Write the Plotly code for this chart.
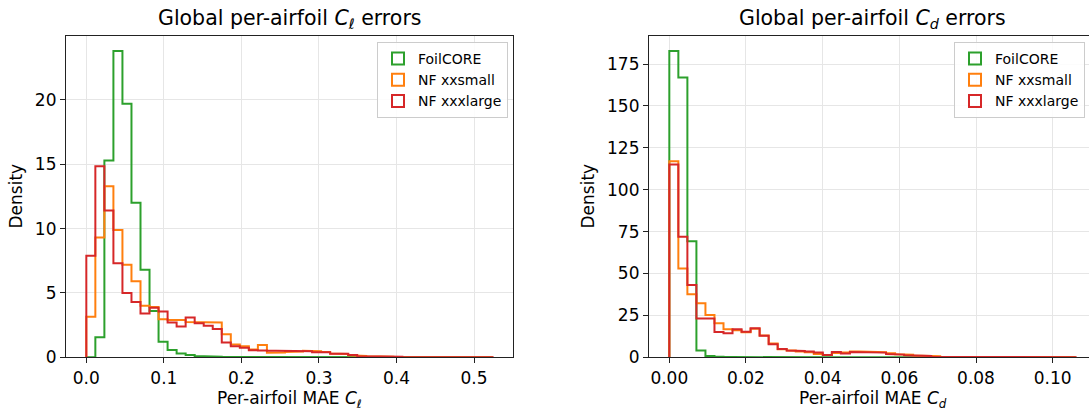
import numpy as np
import plotly.graph_objects as go

# ---------------- data (densities) ----------------
series_names = ["FoilCORE", "NF xxsmall", "NF xxxlarge"]
series_colors = ["#2ca02c", "#ff7f0e", "#d62728"]

cl_max = 0.524   # upper bin edge, C_l panel
cd_max = 0.106   # upper bin edge, C_d panel
n_bins = 45

foilcore_cl = [0, 1.55, 15.3, 23.8, 19.7, 12.0, 6.8, 3.6, 1.2, 0.57, 0.30, 0.18, 0.10, 0.07, 0.05,
               0.03, 0.02, 0.02, 0.01, 0.01, 0.01, 0, 0, 0, 0, 0, 0, 0, 0, 0,
               0, 0, 0, 0, 0, 0, 0, 0, 0, 0, 0, 0, 0, 0, 0]
xxsmall_cl = [3.15, 9.3, 13.3, 9.9, 7.2, 5.9, 4.0, 3.9, 2.95, 2.9, 2.9, 2.75, 2.7, 2.7, 2.7,
              1.8, 1.0, 0.85, 0.6, 0.96, 0.36, 0.38, 0.42, 0.45, 0.5, 0.48, 0.42, 0.3, 0.25, 0.15,
              0.1, 0.08, 0.05, 0.04, 0.02, 0.02, 0.01, 0.01, 0, 0, 0, 0, 0, 0, 0]
xxxlarge_cl = [7.9, 14.85, 11.4, 7.3, 5.0, 4.3, 3.4, 3.85, 3.55, 2.7, 2.4, 3.1, 2.65, 2.45, 2.2,
               1.15, 0.85, 0.75, 0.55, 0.52, 0.5, 0.49, 0.48, 0.47, 0.47, 0.4, 0.39, 0.28, 0.27, 0.18,
               0.09, 0.07, 0.05, 0.05, 0.04, 0.03, 0.03, 0.02, 0.02, 0.02, 0.01, 0.01, 0.01, 0.01, 0.01]

foilcore_cd = [182.8, 167.0, 69.2, 4.0, 0.8, 0.3, 0.15, 0.1, 0.05, 0.05, 0.03, 0.02, 0.01, 0, 0,
               0, 0, 0, 0, 0, 0, 0, 0, 0, 0, 0, 0, 0, 0, 0,
               0, 0, 0, 0, 0, 0, 0, 0, 0, 0, 0, 0, 0, 0, 0]
xxsmall_cd = [117.0, 53.0, 37.6, 32.2, 25.2, 20.3, 16.7, 16.2, 14.9, 17.0, 13.0, 8.3, 4.8, 4.0, 3.4,
              3.0, 2.0, 1.4, 2.6, 2.8, 3.4, 3.4, 3.4, 3.0, 2.4, 1.8, 1.6, 1.0, 0.8, 0.6,
              0.4, 0.4, 0.3, 0.3, 0.4, 0.4, 0.3, 0.3, 0.2, 0.2, 0.2, 0.1, 0.1, 0.1, 0.0]
xxxlarge_cd = [115.1, 72.0, 43.1, 23.1, 23.1, 15.1, 14.3, 16.7, 15.3, 17.3, 12.9, 7.8, 5.0, 4.0, 3.8,
               3.4, 2.8, 1.4, 3.2, 2.2, 3.2, 3.2, 3.2, 2.8, 2.0, 1.6, 1.2, 0.8, 0.8, 0.4,
               0.4, 0.3, 0.3, 0.4, 0.5, 0.5, 0.4, 0.3, 0.3, 0.2, 0.2, 0.2, 0.1, 0.1, 0.1]

cl_ticks = [0.0, 0.1, 0.2, 0.3, 0.4, 0.5]
cl_yticks = [0, 5, 10, 15, 20]
cd_ticks = [0.00, 0.02, 0.04, 0.06, 0.08, 0.10]
cd_yticks = [0, 25, 50, 75, 100, 125, 150, 175]

FONT = "DejaVu Sans"
W, H = 1089, 413


def step_xy(edges, heights):
    h = np.asarray(heights, dtype=float)
    xs = np.repeat(edges, 2)
    ys = np.concatenate([[0.0], np.repeat(h, 2), [0.0]])
    return xs, ys


fig = go.Figure()

panels = [
    (np.linspace(0, cl_max, n_bins + 1), [foilcore_cl, xxsmall_cl, xxxlarge_cl], "x", "y", "legend"),
    (np.linspace(0, cd_max, n_bins + 1), [foilcore_cd, xxsmall_cd, xxxlarge_cd], "x2", "y2", "legend2"),
]

for edges, dens, xa, ya, lg in panels:
    for name, col, d in zip(series_names, series_colors, dens):
        xs, ys = step_xy(edges, d)
        fig.add_trace(go.Scatter(x=xs, y=ys, mode="lines", line=dict(color=col, width=2),
                                 showlegend=False, xaxis=xa, yaxis=ya, hoverinfo="skip"))
    for name, col in zip(series_names, series_colors):
        fig.add_trace(go.Bar(x=[None], y=[None], name=name, xaxis=xa, yaxis=ya, legend=lg,
                             marker=dict(color="rgba(255,255,255,0)", line=dict(color=col, width=2))))

# axis geometry (pixels)
L1, R1 = 66, 513
L2 = 649
R2_full = 1096
TOP, BOT = 35.7, 357.3
ydom = [(H - BOT) / H, (H - TOP) / H]

# ranges (matplotlib-style 5% x margin, 5% headroom)
cl_pad = 0.05 * cl_max
cd_pad = 0.05 * cd_max
cl_xr = [-cl_pad, cl_max + cl_pad]
cd_left = -cd_pad
cd_px = (R2_full - L2) / (cd_max + 2 * cd_pad)  # pixels per unit
cd_xr = [cd_left, cd_left + (W - L2) / cd_px]
cl_yr = [0, 1.05 * max(max(foilcore_cl), max(xxsmall_cl), max(xxxlarge_cl))]
cd_yr = [0, 1.05 * max(max(foilcore_cd), max(xxsmall_cd), max(xxxlarge_cd))]

axis_common = dict(showgrid=True, gridcolor="#e6e6e6", gridwidth=1, zeroline=False,
                   showline=True, linecolor="#222222", linewidth=1.2, automargin=False,
                   ticks="outside", ticklen=5, tickwidth=1.2, tickcolor="#222222",
                   tickfont=dict(family=FONT, size=17, color="#000000"), type="linear")

fig.update_layout(
    template="none",
    width=W, height=H, margin=dict(l=0, r=0, t=0, b=0, pad=0, autoexpand=False),
    paper_bgcolor="white", plot_bgcolor="white",
    font=dict(family=FONT, color="#000000"),
    xaxis=dict(domain=[L1 / W, R1 / W], range=cl_xr, tickvals=cl_ticks, tickformat=".1f",
               mirror=True, **axis_common),
    yaxis=dict(domain=ydom, range=cl_yr, tickvals=cl_yticks, mirror=True, **axis_common),
    xaxis2=dict(domain=[L2 / W, 1.0], range=cd_xr, tickvals=cd_ticks, tickformat=".2f",
                anchor="y2", mirror=True, **axis_common),
    yaxis2=dict(domain=ydom, range=cd_yr, tickvals=cd_yticks, anchor="x2", mirror=False,
                **axis_common),
    legend=dict(x=508 / W, y=(H - 42) / H, xanchor="right", yanchor="top",
                bgcolor="rgba(255,255,255,0.85)", bordercolor="#cccccc", borderwidth=1,
                font=dict(family=FONT, size=14)),
    legend2=dict(x=1085 / W, y=(H - 42) / H, xanchor="right", yanchor="top",
                 bgcolor="rgba(255,255,255,0.85)", bordercolor="#cccccc", borderwidth=1,
                 font=dict(family=FONT, size=14)),
    showlegend=True,
    bargap=0,
)

mid2 = ((R2_full - L2) / 2) / (W - L2)
annots = [
    dict(text="Global per-airfoil <i>C</i><sub>ℓ</sub> errors", xref="x domain", yref="y domain",
         x=0.5, y=1, xanchor="center", yanchor="bottom", yshift=2, font=dict(size=20.5)),
    dict(text="Global per-airfoil <i>C</i><sub><i>d</i></sub> errors", xref="x2 domain", yref="y2 domain",
         x=mid2, y=1, xanchor="center", yanchor="bottom", yshift=2, font=dict(size=20.5)),
    dict(text="Per-airfoil MAE <i>C</i><sub>ℓ</sub>", xref="x domain", yref="y domain",
         x=0.5, y=0, xanchor="center", yanchor="top", yshift=-29, font=dict(size=17)),
    dict(text="Per-airfoil MAE <i>C</i><sub><i>d</i></sub>", xref="x2 domain", yref="y2 domain",
         x=mid2, y=0, xanchor="center", yanchor="top", yshift=-29, font=dict(size=17)),
    dict(text="Density", xref="x domain", yref="y domain", x=0, y=0.5, xanchor="right",
         yanchor="middle", xshift=-39, textangle=-90, font=dict(size=17)),
    dict(text="Density", xref="x2 domain", yref="y2 domain", x=0, y=0.5, xanchor="right",
         yanchor="middle", xshift=-50, textangle=-90, font=dict(size=17)),
]
for a in annots:
    a.setdefault("showarrow", False)
    a["font"] = dict(family=FONT, color="#000000", **a["font"])
fig.update_layout(annotations=annots)

fig.write_html("out.html")
